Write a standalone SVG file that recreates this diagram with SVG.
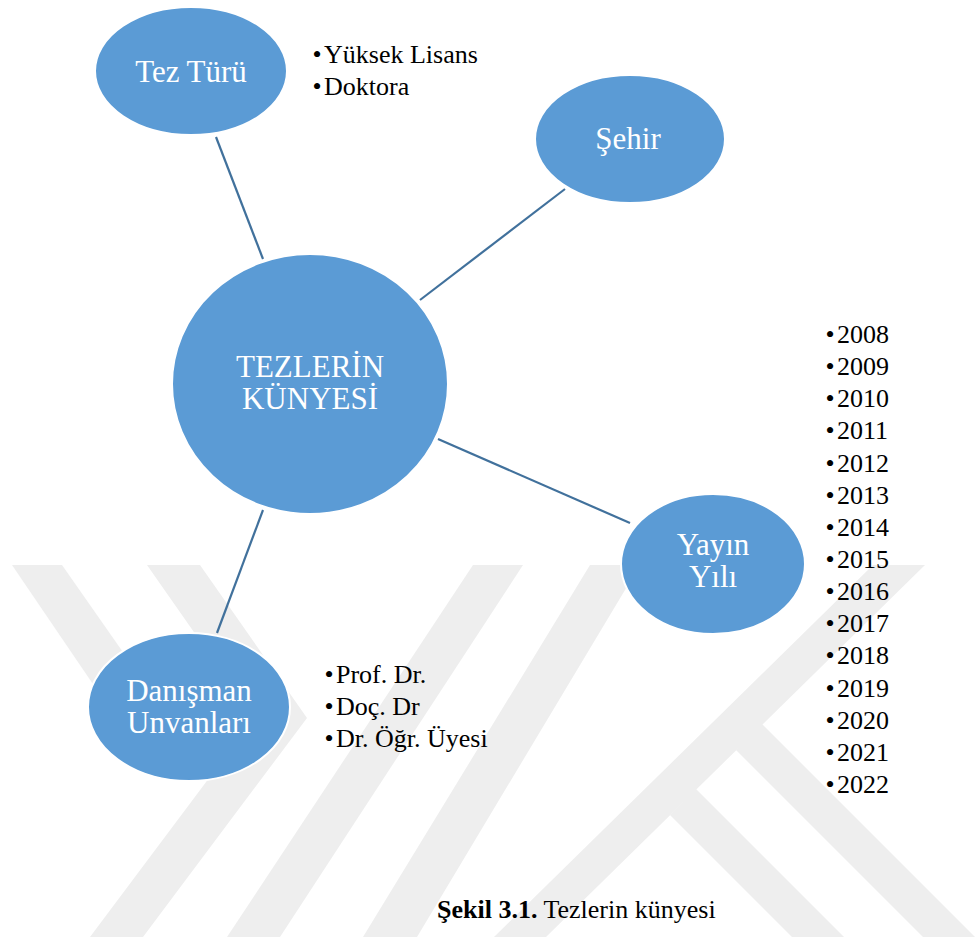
<svg xmlns="http://www.w3.org/2000/svg" width="977" height="938" viewBox="0 0 977 938">
  <style>
    .wm { fill: #EEEEEE; }
    .node { fill: #5B9BD5; stroke: #FFFFFF; stroke-width: 2; }
    .nt { font-family: "Liberation Serif", "Times New Roman", serif; font-size: 31px; fill: #FFFFFF; text-anchor: middle; }
    .conn { stroke: #41719C; stroke-width: 2.2; fill: none; }
    .li { font-family: "Liberation Serif", "Times New Roman", serif; font-size: 26px; fill: #000000; }
    .bu { font-family: "Liberation Serif", "Times New Roman", serif; font-size: 26px; fill: #000000; text-anchor: middle; }
    .cap { font-family: "Liberation Serif", "Times New Roman", serif; font-size: 26px; fill: #000000; }
  </style>
  <rect x="0" y="0" width="977" height="938" fill="#FFFFFF"/>

  <g id="watermark">
    <polygon class="wm" points="12,565 62,565 169,718 116,718"/>
    <polygon class="wm" points="147,565 200,565 307,718 143,937 90,937 254,718"/>
    <polygon class="wm" points="473,565 523,565 280,937 227,937"/>
    <polygon class="wm" points="590,565 640,565 417,937 363,937"/>
    <polygon class="wm" points="873,565 925,565 546,937 494,937"/>
    <polygon class="wm" points="670,815 696,789 844,937 792,937"/>
    <polygon class="wm" points="736,750 762,724 975,937 923,937"/>
  </g>

  <g id="connectors">
    <line class="conn" x1="216" y1="137" x2="263" y2="259"/>
    <line class="conn" x1="565" y1="189" x2="420" y2="300"/>
    <line class="conn" x1="438" y1="439" x2="630" y2="523"/>
    <line class="conn" x1="263" y1="510" x2="217" y2="633"/>
  </g>

  <g id="node-center">
    <ellipse class="node" cx="310" cy="384" rx="138" ry="130"/>
    <text class="nt" x="310" y="377">TEZLERİN</text>
    <text class="nt" x="310" y="409">KÜNYESİ</text>
  </g>

  <g id="node-tez-turu">
    <ellipse class="node" cx="191" cy="71" rx="96" ry="64"/>
    <text class="nt" x="191" y="82">Tez Türü</text>
  </g>

  <g id="node-sehir">
    <ellipse class="node" cx="630" cy="139" rx="95" ry="64"/>
    <text class="nt" x="628" y="149">Şehir</text>
  </g>

  <g id="node-yayin-yili">
    <ellipse class="node" cx="713" cy="564" rx="92" ry="70"/>
    <text class="nt" x="713" y="555">Yayın</text>
    <text class="nt" x="713" y="587">Yılı</text>
  </g>

  <g id="node-danisman">
    <ellipse class="node" cx="189" cy="707" rx="101" ry="74"/>
    <text class="nt" x="189" y="701">Danışman</text>
    <text class="nt" x="189" y="733">Unvanları</text>
  </g>

  <g id="list-tez-turu">
    <text class="bu" x="317" y="63">•</text><text class="li" x="324" y="63">Yüksek Lisans</text>
    <text class="bu" x="317" y="95">•</text><text class="li" x="324" y="95">Doktora</text>
  </g>

  <g id="list-danisman">
    <text class="bu" x="329" y="683">•</text><text class="li" x="336" y="683">Prof. Dr.</text>
    <text class="bu" x="329" y="715">•</text><text class="li" x="336" y="715">Doç. Dr</text>
    <text class="bu" x="329" y="747">•</text><text class="li" x="336" y="747">Dr. Öğr. Üyesi</text>
  </g>

  <g id="list-years">
    <text class="bu" x="830" y="343">•</text><text class="li" x="837" y="343">2008</text>
    <text class="bu" x="830" y="375">•</text><text class="li" x="837" y="375">2009</text>
    <text class="bu" x="830" y="407">•</text><text class="li" x="837" y="407">2010</text>
    <text class="bu" x="830" y="439">•</text><text class="li" x="837" y="439">2011</text>
    <text class="bu" x="830" y="472">•</text><text class="li" x="837" y="472">2012</text>
    <text class="bu" x="830" y="504">•</text><text class="li" x="837" y="504">2013</text>
    <text class="bu" x="830" y="536">•</text><text class="li" x="837" y="536">2014</text>
    <text class="bu" x="830" y="568">•</text><text class="li" x="837" y="568">2015</text>
    <text class="bu" x="830" y="600">•</text><text class="li" x="837" y="600">2016</text>
    <text class="bu" x="830" y="632">•</text><text class="li" x="837" y="632">2017</text>
    <text class="bu" x="830" y="664">•</text><text class="li" x="837" y="664">2018</text>
    <text class="bu" x="830" y="697">•</text><text class="li" x="837" y="697">2019</text>
    <text class="bu" x="830" y="729">•</text><text class="li" x="837" y="729">2020</text>
    <text class="bu" x="830" y="761">•</text><text class="li" x="837" y="761">2021</text>
    <text class="bu" x="830" y="793">•</text><text class="li" x="837" y="793">2022</text>
  </g>

  <g id="caption">
    <text class="cap" x="437" y="918"><tspan font-weight="bold">Şekil 3.1.</tspan> Tezlerin künyesi</text>
  </g>
</svg>
